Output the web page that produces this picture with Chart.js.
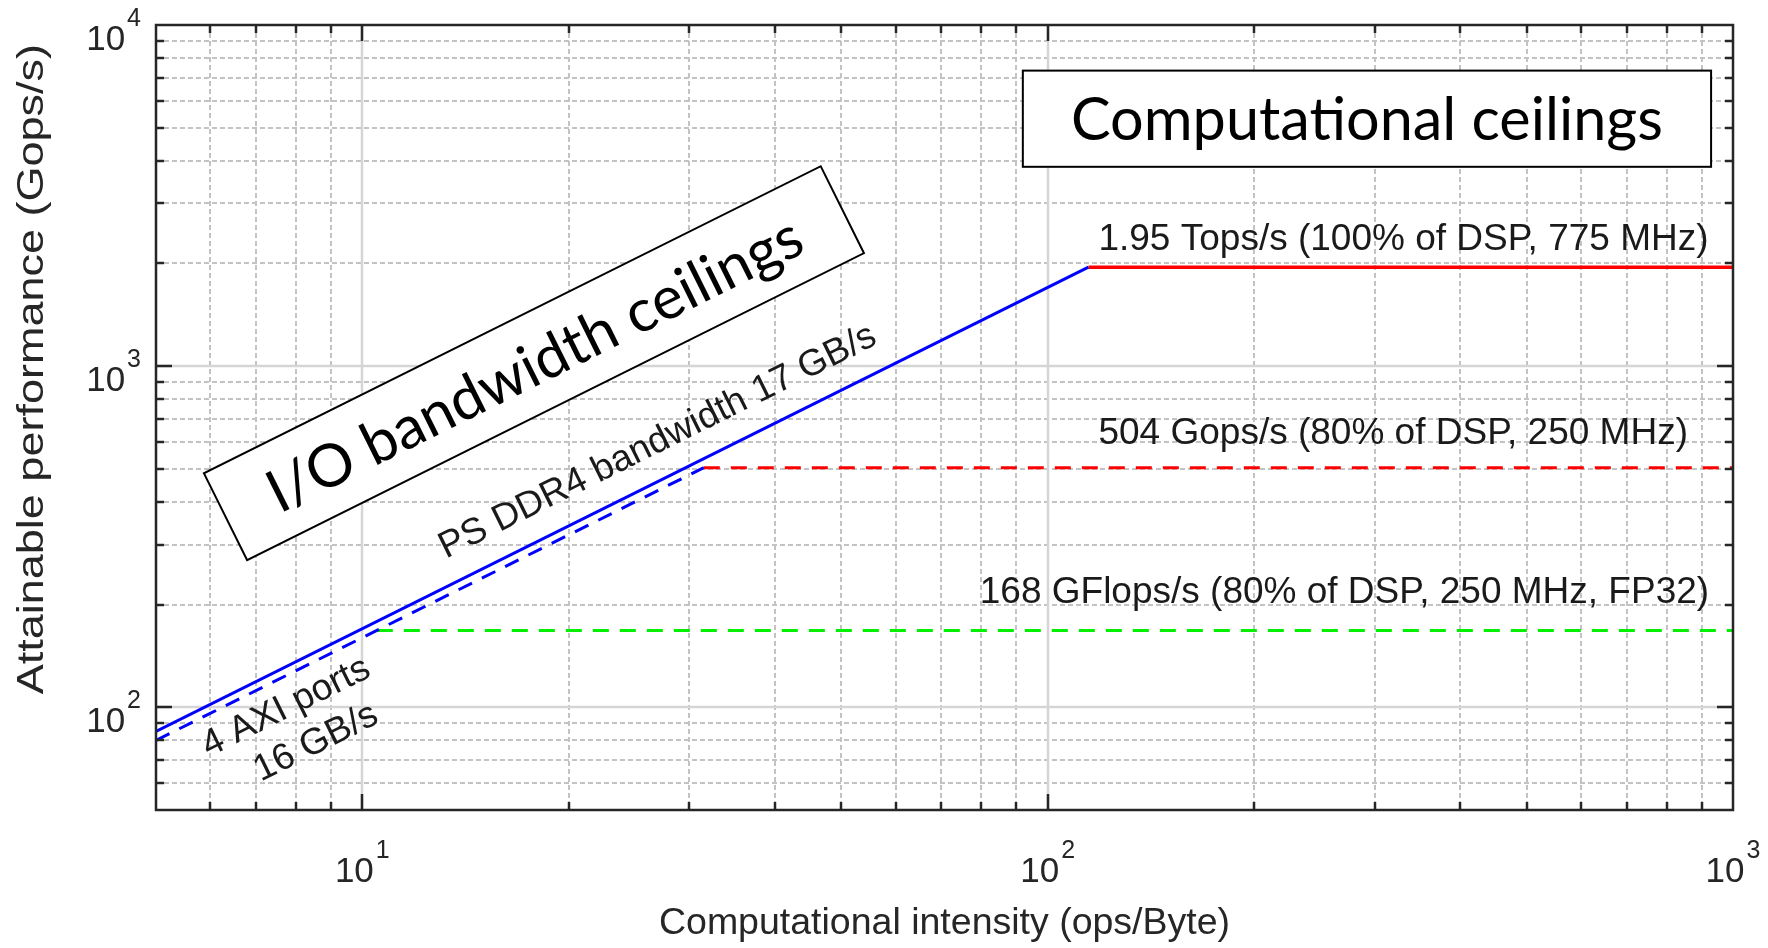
<!DOCTYPE html>
<html>
<head>
<meta charset="utf-8">
<script src="https://cdn.jsdelivr.net/npm/chart.js@4.4.1/dist/chart.umd.min.js"></script>
<style>
  html, body { margin: 0; padding: 0; background: #ffffff; }
  #wrap { width: 1768px; height: 948px; position: relative; }
</style>
</head>
<body>
<div id="wrap"><canvas id="c" width="1768" height="948"></canvas></div>
<script>
// ---------------- data ----------------
// PS DDR4 bandwidth roof (17 GB/s), solid blue
const ddrX = [5, 114.7];
const ddrY = [85, 1950];
// 1.95 Tops/s ceiling, solid red
const peakX = [114.7, 1000];
const peakY = [1950, 1950];
// 4 AXI ports roof (16 GB/s), dashed blue
const axiX = [5, 31.5];
const axiY = [80, 504];
// 504 Gops/s ceiling, dashed red
const int8X = [31.5, 1000];
const int8Y = [504, 504];
// 168 GFlops/s ceiling, dashed green
const fp32X = [10.5, 1000];
const fp32Y = [168, 168];

// axis ranges and decade tick labels
const xRange = [5, 1000];
const yRange = [50, 10000];
const xTickValues = [10, 100, 1000];
const xTickExps = ['1', '2', '3'];
const yTickValues = [100, 1000, 10000];
const yTickExps = ['2', '3', '4'];

// texts
const xTitle = 'Computational intensity (ops/Byte)';
const yTitle = 'Attainable performance (Gops/s)';
const ceilingTexts = ['1.95 Tops/s (100% of DSP, 775 MHz)', '504 Gops/s (80% of DSP, 250 MHz)', '168 GFlops/s (80% of DSP, 250 MHz, FP32)'];
const ddrText = 'PS DDR4 bandwidth 17 GB/s';
const axiTexts = ['4 AXI ports', '16 GB/s'];
const compBoxText = 'Computational ceilings';
const ioBoxText = 'I/O bandwidth ceilings';

// ---------------- styling / placement (data-space anchors) ----------------
const FONT = "'Liberation Sans', Arial, Helvetica, sans-serif";
const BOX_FONT = "Lato, 'Open Sans', sans-serif";
const INK = '#262626';
const TEXT_INK = '#1a1a1a';
const annot = {
  ceilingAnchors: [[118.6, 2190], [118.6, 590], [79.6, 202]],
  ddrAnchor: [27.4, 564],
  axiAnchor: [7.86, 94],
  axiLine2: [11, 45],
  compBox: { x0: 92, y0: 7350, x1: 929, y1: 3840 },
  ioBox: { cx: 17.8, cy: 1020, w: 689, h: 97 },
  boxTextWidth: 592,
  yTitle: { x: 32.5, yValue: 980, size: 37.5, stretch: 1.2 }
};

function pts(xs, ys) { return xs.map((v, i) => ({ x: v, y: ys[i] })); }
function isDecade(v) { const l = Math.log10(v); return Math.abs(l - Math.round(l)) < 1e-6; }
function gridValues(min, max) {
  const out = [];
  for (let e = Math.floor(Math.log10(min)); e <= Math.ceil(Math.log10(max)); e++) {
    for (let k = 1; k < 10; k++) {
      const v = k * Math.pow(10, e);
      if (v > min * 1.0001 && v < max * 0.9999) out.push(v);
    }
  }
  return out;
}
function seg(ctx, x0, y0, x1, y1) { ctx.beginPath(); ctx.moveTo(x0, y0); ctx.lineTo(x1, y1); ctx.stroke(); }

const frame = {
  id: 'matlabFrame',
  beforeDatasetsDraw(chart) {
    const { ctx, chartArea: a, scales: { x, y } } = chart;
    ctx.save();
    ctx.fillStyle = '#ffffff';
    ctx.fillRect(a.left, a.top, a.right - a.left, a.bottom - a.top);
    const xv = gridValues(x.min, x.max), yv = gridValues(y.min, y.max);
    ctx.lineWidth = 2; ctx.strokeStyle = '#c3c3c3'; ctx.setLineDash([5, 3]);
    xv.filter(v => !isDecade(v)).forEach(v => { const p = Math.round(x.getPixelForValue(v)); seg(ctx, p, a.top, p, a.bottom); });
    yv.filter(v => !isDecade(v)).forEach(v => { const p = Math.round(y.getPixelForValue(v)); seg(ctx, a.left, p, a.right, p); });
    ctx.setLineDash([]); ctx.strokeStyle = '#d5d5d5'; ctx.lineWidth = 2.5;
    xv.filter(isDecade).forEach(v => { const p = Math.round(x.getPixelForValue(v)); seg(ctx, p, a.top, p, a.bottom); });
    yv.filter(isDecade).forEach(v => { const p = Math.round(y.getPixelForValue(v)); seg(ctx, a.left, p, a.right, p); });
    ctx.restore();
  },
  afterDatasetsDraw(chart) {
    const { ctx, chartArea: a, scales: { x, y } } = chart;
    const xv = gridValues(x.min, x.max), yv = gridValues(y.min, y.max);
    ctx.save();
    // ticks (inward, all four sides)
    ctx.strokeStyle = INK; ctx.lineWidth = 2.5; ctx.setLineDash([]);
    xv.forEach(v => {
      const p = Math.round(x.getPixelForValue(v)), len = isDecade(v) ? 16 : 8;
      seg(ctx, p, a.bottom, p, a.bottom - len); seg(ctx, p, a.top, p, a.top + len);
    });
    yv.forEach(v => {
      const p = Math.round(y.getPixelForValue(v)), len = isDecade(v) ? 16 : 8;
      seg(ctx, a.left, p, a.left + len, p); seg(ctx, a.right, p, a.right - len, p);
    });
    ctx.strokeRect(a.left, a.top, a.right - a.left, a.bottom - a.top);

    // decade tick labels 10^n
    const baseFont = '35px ' + FONT, expFont = '25px ' + FONT;
    ctx.fillStyle = INK; ctx.textBaseline = 'alphabetic'; ctx.textAlign = 'left';
    const drawPow = (left, base, exp) => {
      ctx.font = baseFont; const wb = ctx.measureText('10').width;
      ctx.fillText('10', left, base);
      ctx.font = expFont; ctx.fillText(exp, left + wb + 2, base - 24);
    };
    const powWidth = (exp) => { ctx.font = baseFont; const wb = ctx.measureText('10').width; ctx.font = expFont; return wb + 2 + ctx.measureText(exp).width; };
    xTickValues.forEach((v, i) => {
      const p = x.getPixelForValue(v), w = powWidth(xTickExps[i]);
      drawPow(p - w / 2, a.bottom + 72, xTickExps[i]);
    });
    yTickValues.forEach((v, i) => {
      const p = y.getPixelForValue(v), w = powWidth(yTickExps[i]);
      drawPow(a.left - 15 - w, p + 25, yTickExps[i]);
    });

    // y axis title (rotated, slightly stretched along its length like the original)
    ctx.save();
    ctx.font = annot.yTitle.size + 'px ' + FONT; ctx.fillStyle = INK;
    ctx.textAlign = 'center'; ctx.textBaseline = 'middle';
    ctx.translate(annot.yTitle.x, y.getPixelForValue(annot.yTitle.yValue));
    ctx.rotate(-Math.PI / 2);
    ctx.scale(annot.yTitle.stretch, 1);
    ctx.fillText(yTitle, 0, 0);
    ctx.restore();
    ctx.textBaseline = 'alphabetic';

    // ceiling labels
    ctx.font = '37px ' + FONT; ctx.fillStyle = TEXT_INK; ctx.textAlign = 'left';
    ceilingTexts.forEach((t, i) => {
      const [lx, ly] = annot.ceilingAnchors[i];
      ctx.fillText(t, x.getPixelForValue(lx), y.getPixelForValue(ly));
    });

    // slope angle of the bandwidth roofs on screen
    const ang = Math.atan2(y.getPixelForValue(ddrY[1]) - y.getPixelForValue(ddrY[0]),
                           x.getPixelForValue(ddrX[1]) - x.getPixelForValue(ddrX[0]));
    ctx.textAlign = 'center';
    ctx.save();
    ctx.translate(x.getPixelForValue(annot.ddrAnchor[0]), y.getPixelForValue(annot.ddrAnchor[1]));
    ctx.rotate(ang);
    ctx.fillText(ddrText, 0, 0);
    ctx.restore();
    ctx.save();
    ctx.translate(x.getPixelForValue(annot.axiAnchor[0]), y.getPixelForValue(annot.axiAnchor[1]));
    ctx.rotate(ang);
    ctx.fillText(axiTexts[0], 0, 0);
    ctx.fillText(axiTexts[1], annot.axiLine2[0], annot.axiLine2[1]);
    ctx.restore();

    // boxed captions
    ctx.font = '100px ' + BOX_FONT;
    const boxSize = 100 * annot.boxTextWidth / ctx.measureText(compBoxText).width;
    ctx.font = boxSize.toFixed(2) + 'px ' + BOX_FONT;
    const cap = ctx.measureText('C').actualBoundingBoxAscent;
    const b = annot.compBox;
    const bx0 = x.getPixelForValue(b.x0), by0 = y.getPixelForValue(b.y0);
    const bx1 = x.getPixelForValue(b.x1), by1 = y.getPixelForValue(b.y1);
    ctx.fillStyle = '#ffffff'; ctx.strokeStyle = '#000000'; ctx.lineWidth = 2;
    ctx.fillRect(bx0, by0, bx1 - bx0, by1 - by0);
    ctx.strokeRect(bx0, by0, bx1 - bx0, by1 - by0);
    ctx.fillStyle = '#000000'; ctx.textAlign = 'center';
    ctx.fillText(compBoxText, (bx0 + bx1) / 2, (by0 + by1) / 2 + cap / 2);
    const io = annot.ioBox;
    ctx.save();
    ctx.translate(x.getPixelForValue(io.cx), y.getPixelForValue(io.cy));
    ctx.rotate(ang);
    ctx.fillStyle = '#ffffff';
    ctx.fillRect(-io.w / 2, -io.h / 2, io.w, io.h);
    ctx.strokeRect(-io.w / 2, -io.h / 2, io.w, io.h);
    ctx.fillStyle = '#000000';
    ctx.fillText(ioBoxText, 0, cap / 2);
    ctx.restore();

    ctx.restore();
  }
};

function ds(xs, ys, color, width, dash) {
  return { data: pts(xs, ys), borderColor: color, borderWidth: width, borderDash: dash,
           pointRadius: 0, pointHoverRadius: 0, fill: false, tension: 0, borderCapStyle: 'butt' };
}

new Chart(document.getElementById('c'), {
  type: 'line',
  data: {
    datasets: [
      ds(ddrX, ddrY, '#0000ff', 3, []),
      ds(peakX, peakY, '#ff0000', 3.5, []),
      ds(axiX, axiY, '#0000ff', 3, [15, 11]),
      ds(int8X, int8Y, '#ff0000', 3, [16, 11]),
      ds(fp32X, fp32Y, '#00f000', 3, [16, 11])
    ]
  },
  options: {
    responsive: false,
    devicePixelRatio: 1,
    animation: false,
    events: [],
    layout: { padding: { left: 148, top: 25, right: 35, bottom: 0 } },
    plugins: { legend: { display: false }, tooltip: { enabled: false } },
    scales: {
      x: {
        type: 'logarithmic', min: xRange[0], max: xRange[1],
        grid: { display: false }, border: { display: false },
        ticks: { display: false },
        title: { display: true, text: xTitle, color: INK,
                 font: { family: FONT, size: 37.5, lineHeight: 1.2 },
                 padding: { top: 83.5, bottom: 1.5 } }
      },
      y: {
        type: 'logarithmic', min: yRange[0], max: yRange[1],
        grid: { display: false }, border: { display: false },
        ticks: { display: false },
        title: { display: false }
      }
    }
  },
  plugins: [frame]
});
</script>
</body>
</html>
